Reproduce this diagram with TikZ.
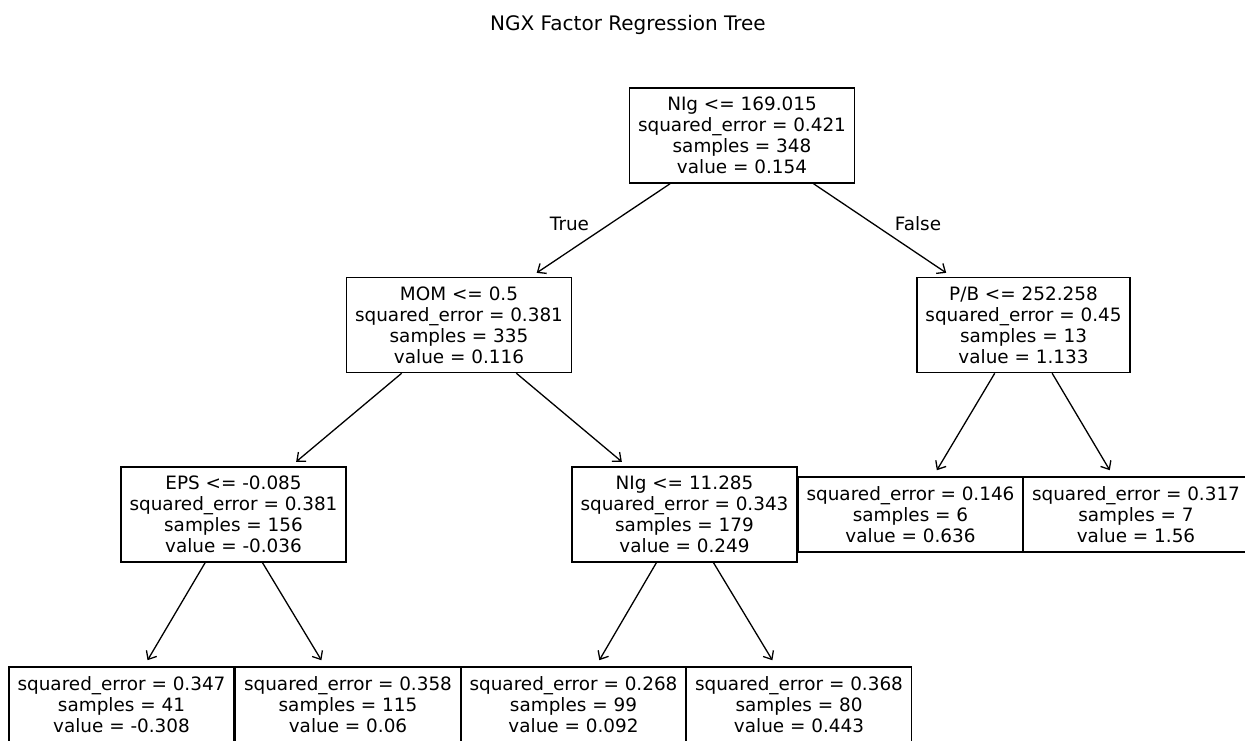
\documentclass[tikz,border=0pt]{standalone}
\usepackage{fontspec}
\setmainfont{DejaVu Sans}
\usetikzlibrary{arrows.meta}

\newcommand{\treefont}{\fontsize{18.4}{21}\selectfont}
\newcommand{\titlefont}{\fontsize{20}{24}\selectfont}

\tikzset{
  split/.style={draw, line width=1.5pt, fill=white, align=center,
    inner xsep=8.5pt, inner ysep=0pt, minimum height=95pt, font=\treefont},
  leaf/.style={split, minimum height=75pt},
  edge/.style={-{Straight Barb[length=7pt,width=12pt]}, line width=1.3pt, shorten >=7pt},
  edgelabel/.style={font=\treefont},
}

\begin{document}
\begin{tikzpicture}[x=1pt, y=-1pt]
  \useasboundingbox (0,0) rectangle (1245,740);
  \clip (0,0) rectangle (1245,740);
  \fill[white] (0,0) rectangle (1245,740);

  % Title
  \node[font=\titlefont, anchor=base] (title) at (628,30.5) {NGX Factor Regression Tree};

  % Depth 0
  \node[split] (root) at (742,135.5) {NIg <= 169.015\\squared\_error = 0.421\\samples = 348\\value = 0.154};

  % Depth 1
  \node[split] (mom) at (459,325) {MOM <= 0.5\\squared\_error = 0.381\\samples = 335\\value = 0.116};
  \node[split] (pb) at (1023.5,325) {P/B <= 252.258\\squared\_error = 0.45\\samples = 13\\value = 1.133};

  % Depth 2
  \node[split] (eps) at (233.5,514.5) {EPS <= -0.085\\squared\_error = 0.381\\samples = 156\\value = -0.036};
  \node[split] (nig) at (684.5,514.5) {NIg <= 11.285\\squared\_error = 0.343\\samples = 179\\value = 0.249};
  \node[leaf] (pbl) at (910.5,514.5) {squared\_error = 0.146\\samples = 6\\value = 0.636};
  \node[leaf] (pbr) at (1136,514.5) {squared\_error = 0.317\\samples = 7\\value = 1.56};

  % Depth 3
  \node[leaf] (epsl) at (121.5,704.5) {squared\_error = 0.347\\samples = 41\\value = -0.308};
  \node[leaf] (epsr) at (348,704.5) {squared\_error = 0.358\\samples = 115\\value = 0.06};
  \node[leaf] (nigl) at (573.5,704.5) {squared\_error = 0.268\\samples = 99\\value = 0.092};
  \node[leaf] (nigr) at (799,704.5) {squared\_error = 0.368\\samples = 80\\value = 0.443};

  % Edges
  \draw[edge] (root) -- (mom);
  \draw[edge] (root) -- (pb);
  \draw[edge] (mom) -- (eps);
  \draw[edge] (mom) -- (nig);
  \draw[edge] (pb) -- (pbl);
  \draw[edge] (pb) -- (pbr);
  \draw[edge] (eps) -- (epsl);
  \draw[edge] (eps) -- (epsr);
  \draw[edge] (nig) -- (nigl);
  \draw[edge] (nig) -- (nigr);

  \node[edgelabel] (truelbl) at (569.5,224) {True};
  \node[edgelabel] (falselbl) at (918,224) {False};
\end{tikzpicture}
\end{document}
